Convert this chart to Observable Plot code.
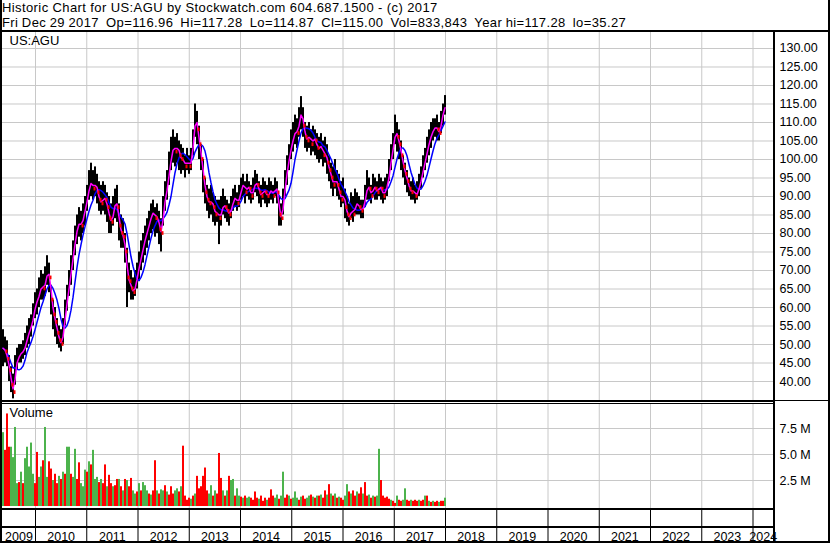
<!DOCTYPE html>
<html><head><meta charset="utf-8">
<script src="https://cdn.jsdelivr.net/npm/d3@7"></script>
<script src="https://cdn.jsdelivr.net/npm/@observablehq/plot@0.6"></script>
<style>
html,body{margin:0;padding:0;background:#fff;}
#chart{position:relative;width:830px;height:543px;overflow:hidden;font-family:"Liberation Sans",Arial,sans-serif;color:#000;background:#fff;}
#chart svg{position:absolute;overflow:visible;}
.line{position:absolute;background:#000;z-index:5;}
.hdr{position:absolute;left:2px;font-size:13px;line-height:15px;height:15px;letter-spacing:0.4px;white-space:pre;color:#000;}
</style></head><body><div id="chart"></div>
<script>
// ---- data ----
const headerLines = [
  "Historic Chart for US:AGU by Stockwatch.com 604.687.1500 - (c) 2017",
  "Fri Dec 29 2017  Op=116.96  Hi=117.28  Lo=114.87  Cl=115.00  Vol=833,843  Year hi=117.28  lo=35.27"
];
const symbol = "US:AGU";
const firstBar = 2009.366;   // fractional year of first bar
const lastBar = 2017.99;     // Fri Dec 29 2017
const axisStart = 2009.356, axisEnd = 2024.4;
const yearTicks = d3.range(2010, 2025);
const yearLabels = d3.range(2009, 2025);
const priceTicks = d3.range(40, 131, 5);
const volumeTicks = [2.5, 5, 7.5];

const priceHigh = [
54,52,51,47,44,42,47,49,50,50,
51,53,55,57,58,61,64,65,68,70,
69,71,74,72,66,62,60,57,55,54,
57,62,66,70,74,78,82,85,87,86,
88,90,93,97,99,97,98,96,94,93,
94,93,91,90,88,90,92,93,88,85,
84,80,76,72,70,68,70,72,75,78,
80,82,84,86,88,89,87,88,86,84,
90,94,97,102,106,108,106,107,105,104,
103,101,103,101,103,108,115,113,109,104,
100,95,93,92,93,91,90,89,89,90,
92,90,89,88,90,92,93,91,93,95,
96,94,96,94,93,95,97,96,94,93,
95,94,93,95,94,93,95,94,90,88,
92,97,101,104,108,110,112,111,114,117,
114,110,109,110,108,109,108,107,106,107,
105,106,104,101,99,98,100,97,96,94,
95,92,90,88,91,90,92,91,90,89,
89,93,97,95,93,96,95,94,96,95,
94,95,96,100,104,107,112,110,108,105,
101,99,97,95,94,95,93,94,96,98,
101,103,106,108,110,111,111,112,110,113,
115,117.28];
const priceLow = [
44,45,44,40,37,35.3,39,43,45,45,
46,47,49,50,52,55,57,58,60,62,
62,63,66,64,58,54,52,50,49,48,
50,55,59,63,66,70,74,77,79,78,
80,82,86,89,90,89,90,88,86,85,
86,85,83,80,80,82,84,83,78,76,
76,72,60,64,62,62,63,65,67,70,
72,74,76,78,80,81,79,80,77,75,
82,86,89,93,97,99,98,99,97,96,
97,95,97,96,97,101,106,104,100,97,
91,88,86,84,85,83,82,83,77,82,
85,84,83,82,84,86,87,86,87,89,
90,88,90,89,88,89,91,90,88,87,
89,88,87,88,89,88,90,88,82,82,
85,90,93,97,100,102,104,103,106,108,
106,103,102,103,101,102,101,100,99,100,
98,99,96,94,92,90,92,90,89,87,
88,84,83,82,84,83,85,85,85,84,
84,87,89,89,88,90,89,89,90,89,
88,89,90,94,97,100,104,102,100,97,
95,93,91,90,89,89,88,89,90,92,
95,97,99,101,103,105,106,105,105,107,
109,112];
const priceClose = [
49,48,46,43,39,37,44,46,47,48,
48,50,52,54,55,58,61,62,64,66,
65,67,70,68,62,58,56,53,51,50,
54,59,63,67,71,75,79,82,83,82,
85,87,90,93,94,92,94,91,89,88,
90,89,87,84,83,86,89,87,82,80,
79,75,68,67,65,64,66,69,72,74,
77,79,81,83,85,86,84,85,81,80,
87,90,93,98,101,104,102,104,101,100,
100,98,100,98,100,106,112,108,104,100,
95,91,89,88,89,87,85,86,84,86,
88,87,86,85,87,89,90,88,90,92,
94,91,93,92,90,92,94,93,91,90,
92,91,90,91,92,90,93,91,85,84,
89,94,98,101,104,106,108,107,111,113,
109,106,105,107,104,106,105,103,103,104,
101,102,99,97,95,93,95,93,91,89,
91,87,85,84,87,85,88,88,87,86,
87,90,93,92,90,93,92,91,93,92,
90,92,93,97,101,104,108,106,104,101,
98,96,94,92,91,92,90,91,93,95,
98,100,103,105,107,108,109,108,107,111,
113,115];
// volume in millions
const volume = [
7.1,5.4,8.9,5.7,5.7,4.7,7.6,2.2,2.3,3.3,
2.2,4.6,5.7,3.8,6.1,3.1,2.2,5.2,2.8,3.8,
4.4,7.6,2.8,4.3,3.6,2.5,3.1,2.2,2.9,2.6,
3.3,3.1,5.7,5.7,3.1,2.8,5.5,2.6,4.2,2.2,
1.9,3.5,3.3,4.3,4.0,5.4,2.6,2.8,2.3,2.6,
2.2,4.0,1.9,3.0,2.2,1.9,2.0,2.6,2.6,1.9,
1.5,2.6,2.5,1.9,2.7,1.5,1.2,1.4,2.2,1.5,
2.3,2.0,1.5,1.2,1.1,1.5,4.4,1.5,1.2,1.6,
1.5,2.0,1.4,1.1,1.9,1.2,1.5,1.7,1.4,1.9,
5.8,1.0,0.6,0.8,0.7,1.0,1.2,2.9,1.7,1.9,
2.9,3.7,1.5,1.2,2.0,1.0,1.5,1.2,5.1,2.7,
1.5,1.0,1.5,2.9,2.5,2.6,1.0,1.7,1.0,0.9,
0.8,1.0,0.8,0.9,0.8,0.6,1.4,0.8,0.7,1.0,
0.5,0.8,0.6,0.8,1.6,1.0,0.8,1.1,0.7,1.0,
3.3,0.8,1.1,1.0,0.7,0.8,1.4,0.8,0.6,0.9,
1.0,0.7,0.8,1.0,1.1,0.9,0.8,1.0,1.0,1.1,
0.8,1.5,1.1,2.1,1.2,1.0,1.2,0.8,0.9,0.8,
0.6,1.0,2.1,1.4,1.2,1.5,1.0,1.4,1.2,1.8,
1.2,2.3,1.0,1.1,0.8,1.0,0.9,1.0,5.5,2.5,
1.0,0.8,0.9,0.7,0.6,0.5,0.3,1.0,0.6,0.5,
0.6,1.7,0.6,0.5,0.6,0.5,0.6,0.5,0.6,0.5,
0.6,1.0,1.0,0.5,0.4,0.5,0.4,0.5,0.4,0.5,
0.5,0.8];
// u = up day (green), d = down day (red)
const volumeDir = [
"u","d","d","d","u","u","u","u","d","u",
"d","u","u","u","u","u","d","d","u","u",
"d","u","u","d","d","u","d","d","u","d",
"u","d","u","u","d","u","u","d","d","u",
"u","u","d","u","d","u","u","u","d","u",
"d","d","u","d","d","u","d","d","u","d",
"u","d","u","d","d","u","u","d","u","d",
"u","u","u","d","u","d","d","u","d","u",
"u","d","u","d","d","d","u","u","d","u",
"d","d","d","d","u","d","u","d","d","d",
"d","d","d","u","u","d","u","d","d","d",
"u","d","u","d","u","u","d","u","u","d",
"u","d","u","u","d","d","d","d","u","d",
"d","d","u","d","d","d","u","u","d","u",
"u","d","d","u","d","u","u","u","d","u",
"d","d","u","u","d","u","d","u","d","u",
"d","d","u","d","u","d","u","d","u","d",
"d","u","u","d","u","d","d","u","d","d",
"u","d","d","u","d","u","d","u","u","d",
"d","d","d","d","u","d","d","u","d","d",
"u","u","d","d","u","d","d","d","u","d",
"d","u","d","u","d","u","d","d","u","d",
"d","u"];

// ---- build tables ----
const n = priceHigh.length;
const step = (lastBar - firstBar) / (n - 1);
const bars = priceHigh.map((h, i) => ({t: firstBar + i * step, hi: h, lo: priceLow[i], close: priceClose[i]}));
const downBars = bars.filter((d, i) => i > 0 && d.close < bars[i - 1].close);
const nv = volume.length;
const vstep = (lastBar - firstBar) / (nv - 1);
const vols = volume.map((v, i) => ({t: firstBar + i * vstep, v, dir: volumeDir[i]}));
const xDomain = [axisStart, axisEnd];
const cells = yearLabels.map(y => ({year: String(y), mid: (Math.max(y, axisStart) + Math.min(y + 1, axisEnd)) / 2}));

const GRID = "#c8c8c8";
const FONT = "'Liberation Sans', Arial, sans-serif";
const root = document.getElementById("chart");

// header
headerLines.forEach((s, i) => {
  const d = document.createElement("div");
  d.className = "hdr"; d.textContent = s; d.style.top = (i * 15) + "px";
  if (i === 1) d.style.wordSpacing = "-0.5px";
  root.appendChild(d);
});

// price panel
const price = Plot.plot({
  width: 826, height: 368, marginLeft: 0, marginRight: 55, marginTop: 0, marginBottom: 0,
  x: {domain: xDomain, axis: null},
  y: {domain: [34.865, 134.324], axis: null},
  style: {fontFamily: FONT, fontSize: "12.5px", color: "#000", background: "transparent"},
  marks: [
    Plot.gridY(priceTicks, {stroke: GRID, strokeOpacity: 1}),
    Plot.gridX(yearTicks, {stroke: GRID, strokeOpacity: 1}),
    Plot.ruleX(bars, {x: "t", y1: "lo", y2: "hi", stroke: "#000", strokeWidth: 2}),
    Plot.lineY(bars, Plot.windowY({k: 7, anchor: "end"}, {x: "t", y: "close", stroke: "#0000ff", strokeWidth: 1.5})),
    Plot.lineY(bars, Plot.windowY({k: 2, anchor: "end"}, {x: "t", y: "close", stroke: "#ff00ff", strokeWidth: 1.5})),
    Plot.ruleX(downBars, {x: "t", y1: d => d.close - 0.5, y2: d => d.close + 0.5, stroke: "#ff0000", strokeWidth: 2, dx: 1.5}),
    Plot.axisY(priceTicks, {anchor: "right", tickSize: 0, tickPadding: 6, tickFormat: d3.format(".2f"), label: null}),
    Plot.text([symbol], {frameAnchor: "top-left", dx: 7, dy: 3, fontSize: 13})
  ]
});
price.style.left = "2px"; price.style.top = "32px";
root.appendChild(price);

// volume panel
const vol = Plot.plot({
  width: 826, height: 104, marginLeft: 0, marginRight: 55, marginTop: 0, marginBottom: 0,
  x: {domain: xDomain, axis: null},
  y: {domain: [-0.192, 9.808], axis: null},
  color: {domain: ["u", "d"], range: ["#4cb34c", "#ff0000"]},
  style: {fontFamily: FONT, fontSize: "12.5px", color: "#000", background: "transparent"},
  marks: [
    Plot.gridY(volumeTicks, {stroke: GRID, strokeOpacity: 1}),
    Plot.gridX(yearTicks, {stroke: GRID, strokeOpacity: 1}),
    Plot.ruleX(vols, {x: "t", y1: 0, y2: "v", stroke: "dir", strokeWidth: 2}),
    Plot.axisY(volumeTicks, {anchor: "right", tickSize: 0, tickPadding: 6, tickFormat: d => d.toFixed(1) + " M", label: null}),
    Plot.text(["Volume"], {frameAnchor: "top-left", dx: 7, dy: 3, fontSize: 13})
  ]
});
vol.style.left = "2px"; vol.style.top = "404px";
root.appendChild(vol);

// year rows
const yrs = Plot.plot({
  width: 771, height: 31, marginLeft: 0, marginRight: 0, marginTop: 0, marginBottom: 0,
  x: {domain: xDomain, axis: null},
  style: {fontFamily: FONT, fontSize: "12.5px", color: "#000", background: "transparent"},
  marks: [
    Plot.ruleX(yearTicks, {stroke: "#000", strokeWidth: 1}),
    Plot.text(cells, {x: "mid", text: "year", frameAnchor: "middle", dy: 10.5})
  ]
});
yrs.style.left = "2px"; yrs.style.top = "510px";
root.appendChild(yrs);

// frame lines
function line(l, t, w, h) {
  const d = document.createElement("div");
  d.className = "line";
  Object.assign(d.style, {left: l + "px", top: t + "px", width: w + "px", height: h + "px"});
  root.appendChild(d);
}
line(0, 0, 2, 543);
line(828, 0, 2, 543);
line(0, 541, 830, 2);
line(0, 30, 830, 2);
line(773, 32, 2, 511);
line(0, 400, 773, 2);
line(0, 403, 773, 1);
line(775, 400, 53, 1);
line(0, 508, 773, 2);
line(0, 526, 773, 2);
</script></body></html>
